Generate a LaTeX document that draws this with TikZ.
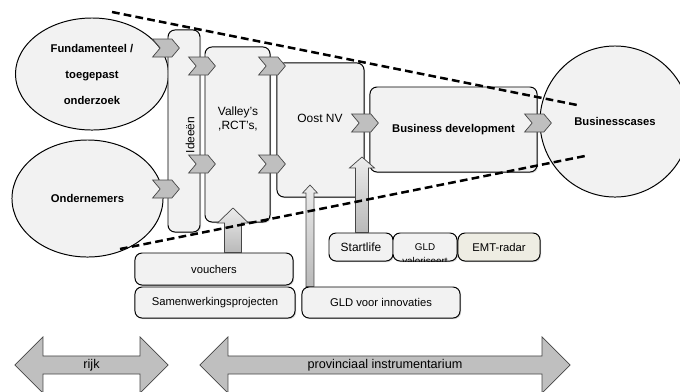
\documentclass[tikz,border=0pt]{standalone}
\usepackage{fontspec}
\setmainfont{Liberation Sans}
\usetikzlibrary{calc,shapes.geometric,shapes.symbols,shapes.arrows,shadows}
\definecolor{emtfill}{HTML}{EEEDE3}

% vertical block arrow from #1 up to #2: shaft half width, head half width, head length
\newcommand\liftarrow[5]{%
	\path[lift] let \p1=(#1), \p2=(#2) in
		(\x1-#3,\y1) -- (\x1-#3,\y2-#5) -- (\x1-#4,\y2-#5) -- (\x1,\y2)
		-- (\x1+#4,\y2-#5) -- (\x1+#3,\y2-#5) -- (\x1+#3,\y1) -- cycle;}

\begin{document}
\begin{tikzpicture}
		[	x=0.025cm,y=-0.025cm,
		box/.style={rectangle,rounded corners=5pt,draw=black,line width=0.7pt,fill=gray!10,inner sep=0pt,
			drop shadow={shadow xshift=0.8pt,shadow yshift=-0.8pt,opacity=0.3},font=\fontsize{8}{9}\selectfont},
		bubble/.style={ellipse,draw=black,line width=0.7pt,fill=gray!10,inner sep=0pt,align=center,
			font=\bfseries\fontsize{8}{18.5}\selectfont},
		chev/.style={signal,signal to=east,signal from=west,signal pointer angle=100,draw=gray!55!black,
			fill=gray!50,line width=0.5pt,minimum width=0.67cm,minimum height=0.45cm,inner sep=0pt},
		lift/.style={draw=gray!55!black,line width=0.5pt,top color=gray!15,bottom color=gray!55},
		spanarrow/.style={double arrow,double arrow head extend=0.325cm,draw=gray!55!black,fill=gray!50,
			line width=0.5pt,minimum width=1.4cm,inner sep=0pt,font=\fontsize{9}{10}\selectfont},
		plain/.style={draw=none,fill=none,align=center,font=\fontsize{8.5}{10}\selectfont},
		funnel/.style={line width=1.8pt,dash pattern=on 5.5pt off 3pt}
		]
		\useasboundingbox (0,0) rectangle (680,391);

		\node[bubble,minimum width=3.825cm,minimum height=2.8cm] (onderzoek) at (92,74)
			{Fundamenteel /\\toegepast\\onderzoek};
		\node[bubble,minimum width=3.775cm,minimum height=2.925cm] (ondernemers) at (87.5,198.5) {Ondernemers};
		\node[bubble,minimum width=3.75cm,minimum height=3.775cm] (cases) at (615,121.5) {Businesscases};

		\node[box,minimum width=0.8cm,minimum height=5.05cm] (ideeen) at (184,131) {};
		\node[box,minimum width=1.625cm,minimum height=4.375cm] (valley) at (237.5,134.5) {};
		\node[box,minimum width=2.175cm,minimum height=3.35cm] (oost) at (320.5,130) {};
		\node[box,minimum width=4.175cm,minimum height=2.125cm,font=\bfseries\fontsize{8}{9}\selectfont] (busdev)
			at (453.5,129.5) {Business development};
		\node[plain,rotate=90] (ideeentxt) at (190,135) {Ideeën};
		\node[plain] (valleytxt) at (238,119) {Valley's\\,RCT's,};
		\node[plain] (oosttxt) at (320,118) {Oost NV};

		\node[box,minimum width=3.95cm,minimum height=0.8cm] (vouchers) at (214,269) {vouchers};
		\node[box,minimum width=4cm,minimum height=0.775cm] (samen) at (215,302.5) {Samenwerkingsprojecten};
		\node[box,minimum width=3.95cm,minimum height=0.775cm] (gldinno) at (381,302.5) {GLD voor innovaties};
		\node[box,minimum width=1.6cm,minimum height=0.7cm,font=\fontsize{8.5}{9}\selectfont] (startlife)
			at (361,247) {Startlife};
		\node[box,minimum width=1.6cm,minimum height=0.7cm] (gldval) at (425,247) {};
		\node[box,minimum width=2.05cm,minimum height=0.7cm,fill=emtfill] (emt) at (499,247) {EMT-radar};
		\begin{scope}
			\clip[rounded corners=5pt] (gldval.south west) rectangle (gldval.north east);
			\node[plain,font=\fontsize{7}{10}\selectfont] (gldvaltxt) at (425,254.5) {GLD\\valoriseert};
		\end{scope}

		\coordinate (vtip) at (233,208);
		\coordinate (gtip) at (310,185);
		\coordinate (stip) at (362,157);
		\liftarrow{vouchers.north -| vtip}{vtip}{6pt}{11pt}{10.6pt}
		\liftarrow{gldinno.north -| gtip}{gtip}{2.8pt}{5.3pt}{5.7pt}
		\liftarrow{startlife.north -| stip}{stip}{4.6pt}{8.9pt}{7.8pt}

		\node[chev] (c1) at (166,48) {};
		\node[chev] (c2) at (166,189) {};
		\node[chev] (c3) at (202,66) {};
		\node[chev] (c4) at (202,164) {};
		\node[chev] (c5) at (272,66) {};
		\node[chev] (c6) at (272,164) {};
		\node[chev] (c7) at (365,123) {};
		\node[chev] (c8) at (538,123) {};

		\coordinate (top1) at (112,12);
		\coordinate (top2) at (577,105);
		\coordinate (bot1) at (120,249);
		\coordinate (bot2) at (585,156);
		\draw[funnel] (top1) -- (top2);
		\draw[funnel] (bot1) -- (bot2);

		\node[spanarrow,minimum height=3.825cm] (rijk) at (91.5,365) {rijk};
		\node[spanarrow,minimum height=9.25cm] (provinciaal) at (385,365) {provinciaal instrumentarium};
	\end{tikzpicture}
\end{document}
